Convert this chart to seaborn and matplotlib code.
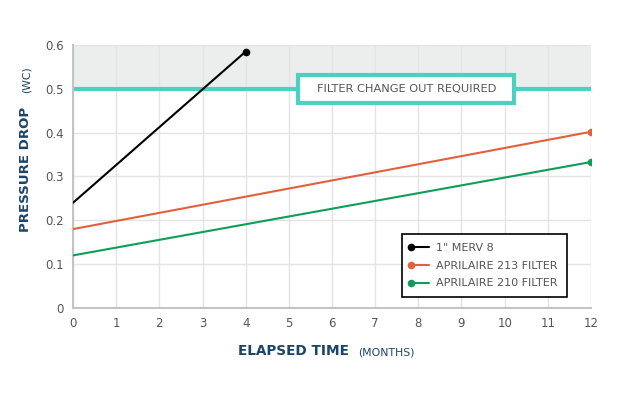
import numpy as np
import pandas as pd
import seaborn as sns
import matplotlib.pyplot as plt
from matplotlib.patches import Rectangle
from matplotlib.legend_handler import HandlerLine2D

# data
months_merv = [0, 4]
merv8 = [0.24, 0.585]
months_apr = [0, 12]
apr213 = [0.18, 0.402]
apr210 = [0.12, 0.333]
series_names = ['1" MERV 8', "APRILAIRE 213 FILTER", "APRILAIRE 210 FILTER"]
series_colors = ["#000000", "#e2603c", "#0f9d58"]
threshold = 0.5

df = pd.concat([
    pd.DataFrame({"month": months_merv, "drop": merv8, "filter": series_names[0]}),
    pd.DataFrame({"month": months_apr, "drop": apr213, "filter": series_names[1]}),
    pd.DataFrame({"month": months_apr, "drop": apr210, "filter": series_names[2]}),
])

sns.set_theme(style="white")
plt.rcParams["font.family"] = ["DejaVu Sans"]


# legend handle with the dot on the left end of the line
class LeftDot(HandlerLine2D):
    def create_artists(self, *args, **kwargs):
        artists = super().create_artists(*args, **kwargs)
        artists[0].set_markevery([0])
        return artists


fig = plt.figure(figsize=(6.31, 3.94), dpi=100)
ax = fig.add_axes([0.1157, 0.2183, 0.8209, 0.6675])

# shaded zone above change-out threshold
ax.axhspan(threshold, 0.6, color="#eceeed", zorder=0)
ax.grid(True, color="#e4e4e4", linewidth=1, zorder=0.5)
ax.set_axisbelow(True)

for name, col in zip(series_names, series_colors):
    sub = df[df["filter"] == name]
    sns.lineplot(data=sub, x="month", y="drop", color=col, linewidth=1.5,
                 marker="o", markersize=5.5, markevery=[len(sub) - 1],
                 markeredgewidth=0, label=name, ax=ax, zorder=3)

teal = "#4dd0c0"
ax.axhline(threshold, color=teal, linewidth=3, zorder=2)
ax.add_patch(Rectangle((5.22, threshold - 0.0325), 5.0, 0.065, facecolor="white",
                       edgecolor=teal, linewidth=3, zorder=4))
ax.text(7.72, threshold, "FILTER CHANGE OUT REQUIRED", ha="center", va="center",
        fontsize=8.2, color="#555555", zorder=5)

ax.set_xlim(0, 12)
ax.set_ylim(0, 0.6)
ax.set_xticks(range(0, 13))
ax.set_yticks(np.arange(0, 0.61, 0.1))
ax.set_yticklabels(["0", "0.1", "0.2", "0.3", "0.4", "0.5", "0.6"])
ax.tick_params(colors="#555555", labelsize=8.5, length=3, color="#bbbbbb")
for side in ["top", "right"]:
    ax.spines[side].set_visible(False)
for side in ["left", "bottom"]:
    ax.spines[side].set_color("#c4c4c4")
    ax.spines[side].set_linewidth(1.5)
ax.set_xlabel("")
ax.set_ylabel("")

navy = "#1c4468"
fig.text(0.377, 0.109, "ELAPSED TIME", ha="left", va="center", fontsize=9.8,
         fontweight="bold", color=navy)
fig.text(0.567, 0.106, "(MONTHS)", ha="left", va="center", fontsize=7.8, color=navy)
fig.text(0.040, 0.571, "PRESSURE DROP", ha="center", va="center", fontsize=9.6,
         fontweight="bold", color=navy, rotation=90)
fig.text(0.042, 0.797, "(WC)", ha="center", va="center", fontsize=7.8,
         color=navy, rotation=90)

leg = ax.legend(loc="upper left", bbox_to_anchor=(0.637, 0.406),
                bbox_transform=fig.transFigure, frameon=True, fancybox=False,
                fontsize=8, labelcolor="#555555", handlelength=1.6,
                handletextpad=0.7, borderpad=0.8, labelspacing=0.7,
                borderaxespad=0, handler_map={plt.Line2D: LeftDot()})
leg.get_frame().set_edgecolor("black")
leg.get_frame().set_linewidth(1.2)
leg.get_frame().set_alpha(1)

fig.savefig("out.png", dpi=100)
